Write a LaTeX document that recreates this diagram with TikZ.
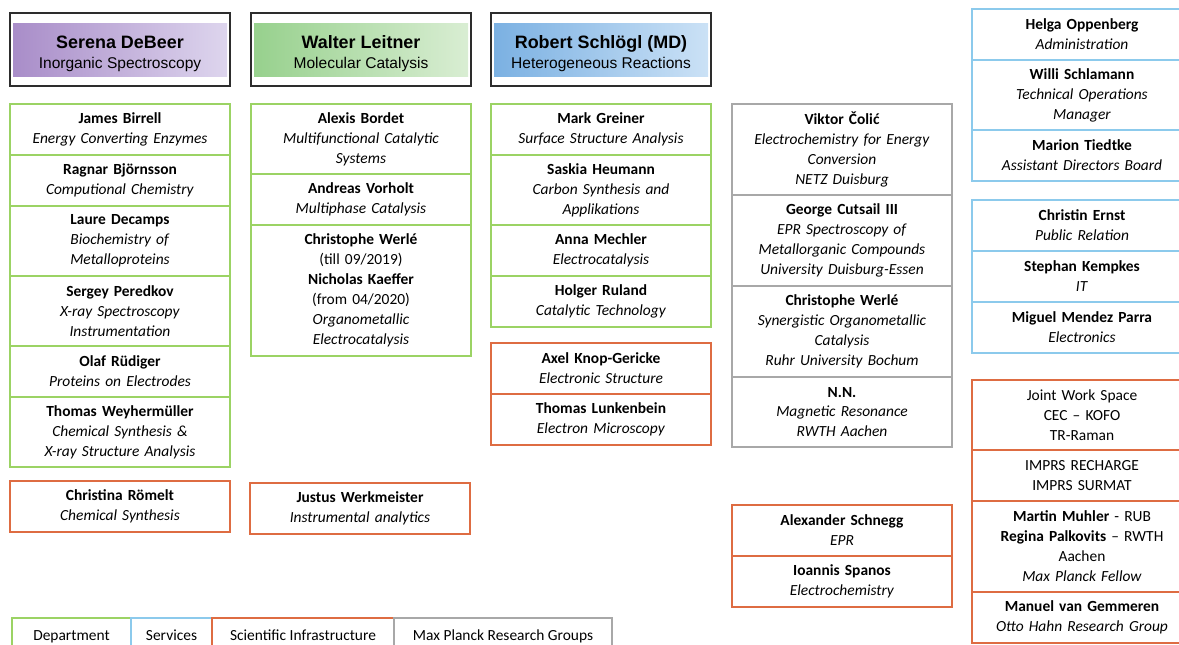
\documentclass[tikz,border=0pt]{standalone}
\usepackage{fontspec}
\setmainfont{Carlito}
\newfontfamily\headfont{Liberation Sans}
\usepackage{xcolor}
\usepackage{tikz}
\definecolor{deptgreen}{RGB}{155, 211, 100}
\definecolor{servblue}{RGB}{140, 202, 236}
\definecolor{infraorange}{RGB}{222, 108, 66}
\definecolor{mpgray}{RGB}{168, 168, 168}
\definecolor{framegray}{RGB}{45, 45, 45}
\definecolor{purpleL}{RGB}{168, 140, 200}
\definecolor{purpleR}{RGB}{222, 214, 238}
\definecolor{greenL}{RGB}{150, 208, 140}
\definecolor{greenR}{RGB}{218, 238, 212}
\definecolor{blueL}{RGB}{122, 176, 226}
\definecolor{blueR}{RGB}{204, 226, 246}
\usetikzlibrary{positioning}

\newcommand{\cellfont}{\fontsize{15.5}{20}\selectfont}
\newcommand{\nm}[1]{\textbf{#1}}
\newcommand{\fld}[1]{\textit{#1}}
\newcommand{\headname}[1]{{\bfseries #1}}
\newcommand{\headfield}[1]{{\fontsize{15.6}{20}\selectfont #1}}

\begin{document}
\begin{tikzpicture}[
        x=1bp, y=-1bp,
        every node/.style={font=\cellfont},
        cell/.style={rectangle, line width=1.5bp, outer sep=0pt, inner sep=2bp, minimum width=220bp, text width=214bp, align=center},
        dept/.style={cell, draw=deptgreen},
        serv/.style={cell, draw=servblue},
        infra/.style={cell, draw=infraorange},
        mpgroup/.style={cell, draw=mpgray},
        hsmall/.style={minimum height=51bp},
        hmid/.style={minimum height=70bp},
        hbig/.style={minimum height=91bp},
        hhuge/.style={minimum height=131bp},
        head/.style 2 args={rectangle, draw=framegray, line width=1.6bp, outer sep=0pt, inner ysep=0pt, minimum width=220bp, minimum height=73bp, align=center, text height=41bp, font=\headfont\fontsize{18}{20}\selectfont,
            path picture={\shade[left color=#1, right color=#2] ([xshift=3bp,yshift=-11bp]path picture bounding box.north west) rectangle ([xshift=-3bp,yshift=9bp]path picture bounding box.south east);}},
        legend/.style={rectangle, line width=1.5bp, outer sep=0pt, minimum height=38bp, text height=11bp, text depth=4bp}
    ]
    \path[use as bounding box, clip] (0,0) rectangle (1179,645);

    % directors
    \node[head={purpleL}{purpleR}, anchor=north west] (debeer) at (10,13) {\headname{Serena DeBeer}\\\headfield{Inorganic Spectroscopy}};
    \node[head={greenL}{greenR}, anchor=north west] (leitner) at (251,13) {\headname{Walter Leitner}\\\headfield{Molecular Catalysis}};
    \node[head={blueL}{blueR}, anchor=north west] (schloegl) at (491,13) {\headname{Robert Schlögl (MD)}\\\headfield{Heterogeneous Reactions}};

    % inorganic spectroscopy
    \node[dept, hsmall, anchor=north west] (birrell) at (10,104) {\nm{James Birrell}\\\fld{Energy Converting Enzymes}};
    \node[dept, hsmall, below=0pt of birrell] (bjornsson) {\nm{Ragnar Björnsson}\\\fld{Computional Chemistry}};
    \node[dept, hmid, below=0pt of bjornsson] (decamps) {\nm{Laure Decamps}\\\fld{Biochemistry of}\\\fld{Metalloproteins}};
    \node[dept, hmid, below=0pt of decamps] (peredkov) {\nm{Sergey Peredkov}\\\fld{X-ray Spectroscopy}\\\fld{Instrumentation}};
    \node[dept, hsmall, below=0pt of peredkov] (rudiger) {\nm{Olaf Rüdiger}\\\fld{Proteins on Electrodes}};
    \node[dept, hmid, below=0pt of rudiger] (weyher) {\nm{Thomas Weyhermüller}\\\fld{Chemical Synthesis \&}\\\fld{X-ray Structure Analysis}};
    \node[infra, hsmall, anchor=north west] (roemelt) at (10,481) {\nm{Christina Römelt}\\\fld{Chemical Synthesis}};

    % molecular catalysis
    \node[dept, hmid, anchor=north west] (bordet) at (251,104) {\nm{Alexis Bordet}\\\fld{Multifunctional Catalytic}\\\fld{Systems}};
    \node[dept, hsmall, below=0pt of bordet] (vorholt) {\nm{Andreas Vorholt}\\\fld{Multiphase Catalysis}};
    \node[dept, hhuge, below=0pt of vorholt] (werle) {\nm{Christophe Werlé}\\(till 09/2019)\\\nm{Nicholas Kaeffer}\\(from 04/2020)\\\fld{Organometallic}\\\fld{Electrocatalysis}};
    \node[infra, hsmall, anchor=north west] (werkmeister) at (250,483) {\nm{Justus Werkmeister}\\\fld{Instrumental analytics}};

    % heterogeneous reactions
    \node[dept, hsmall, anchor=north west] (greiner) at (491,104) {\nm{Mark Greiner}\\\fld{Surface Structure Analysis}};
    \node[dept, hmid, below=0pt of greiner] (heumann) {\nm{Saskia Heumann}\\\fld{Carbon Synthesis and}\\\fld{Applikations}};
    \node[dept, hsmall, below=0pt of heumann] (mechler) {\nm{Anna Mechler}\\\fld{Electrocatalysis}};
    \node[dept, hsmall, below=0pt of mechler] (ruland) {\nm{Holger Ruland}\\\fld{Catalytic Technology}};
    \node[infra, hsmall, anchor=north west] (knop) at (491,343) {\nm{Axel Knop-Gericke}\\\fld{Electronic Structure}};
    \node[infra, hsmall, below=0pt of knop] (lunkenbein) {\nm{Thomas Lunkenbein}\\\fld{Electron Microscopy}};

    % research groups
    \node[mpgroup, hbig, anchor=north west] (colic) at (732,104) {\nm{Viktor Čolić}\\\fld{Electrochemistry for Energy}\\\fld{Conversion}\\\fld{NETZ Duisburg}};
    \node[mpgroup, hbig, below=0pt of colic] (cutsail) {\nm{George Cutsail III}\\\fld{EPR Spectroscopy of}\\\fld{Metallorganic Compounds}\\\fld{University Duisburg-Essen}};
    \node[mpgroup, hbig, below=0pt of cutsail] (werlemp) {\nm{Christophe Werlé}\\\fld{Synergistic Organometallic}\\\fld{Catalysis}\\\fld{Ruhr University Bochum}};
    \node[mpgroup, hmid, below=0pt of werlemp] (nn) {\nm{N.N.}\\\fld{Magnetic Resonance}\\\fld{RWTH Aachen}};
    \node[infra, hsmall, anchor=north west] (schnegg) at (732,505) {\nm{Alexander Schnegg}\\\fld{EPR}};
    \node[infra, hsmall, below=0pt of schnegg] (spanos) {\nm{Ioannis Spanos}\\\fld{Electrochemistry}};

    % services
    \node[serv, hsmall, anchor=north west] (oppenberg) at (972,9) {\nm{Helga Oppenberg}\\\fld{Administration}};
    \node[serv, hmid, below=0pt of oppenberg] (schlamann) {\nm{Willi Schlamann}\\\fld{Technical Operations}\\\fld{Manager}};
    \node[serv, hsmall, below=0pt of schlamann] (tiedtke) {\nm{Marion Tiedtke}\\\fld{Assistant Directors Board}};
    \node[serv, hsmall, anchor=north west] (ernst) at (972,200) {\nm{Christin Ernst}\\\fld{Public Relation}};
    \node[serv, hsmall, below=0pt of ernst] (kempkes) {\nm{Stephan Kempkes}\\\fld{IT}};
    \node[serv, hsmall, below=0pt of kempkes] (mendez) {\nm{Miguel Mendez Parra}\\\fld{Electronics}};

    % infrastructure and fellows
    \node[infra, hmid, anchor=north west] (jointws) at (972,380) {Joint Work Space\\CEC – KOFO\\TR-Raman};
    \node[infra, hsmall, below=0pt of jointws] (imprs) {IMPRS RECHARGE\\IMPRS SURMAT};
    \node[infra, hbig, below=0pt of imprs] (fellows) {\nm{Martin Muhler} - RUB\\\nm{Regina Palkovits} – RWTH\\Aachen\\\fld{Max Planck Fellow}};
    \node[infra, hsmall, below=0pt of fellows] (gemmeren) {\nm{Manuel van Gemmeren}\\\fld{Otto Hahn Research Group}};

    % legend
    \node[legend, draw=deptgreen, minimum width=119bp, anchor=north west] (legdept) at (12,618) {Department};
    \node[legend, draw=servblue, minimum width=81bp, right=0pt of legdept] (legserv) {Services};
    \node[legend, draw=infraorange, minimum width=182bp, right=0pt of legserv] (leginfra) {Scientific Infrastructure};
    \node[legend, draw=mpgray, minimum width=218bp, right=0pt of leginfra] (legmpg) {Max Planck Research Groups};

\end{tikzpicture}
\end{document}
